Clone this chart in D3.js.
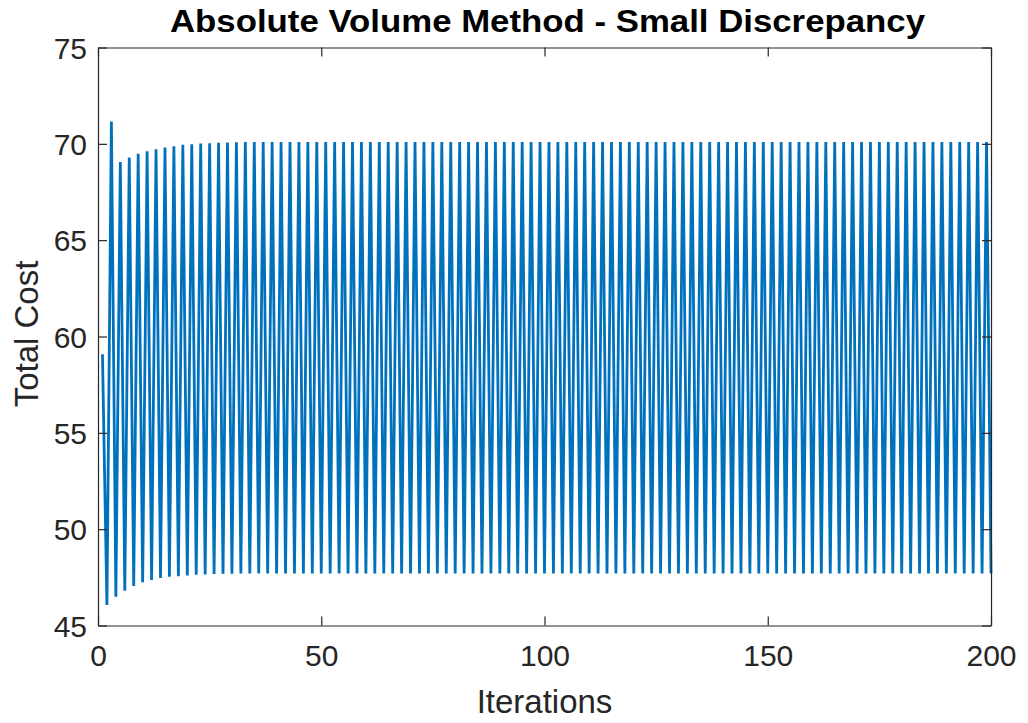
<!DOCTYPE html>
<html>
<head>
<meta charset="utf-8">
<script src="https://cdn.jsdelivr.net/npm/d3@7"></script>
<style>
  body { margin: 0; background: #fff; }
  svg { font-family: "Liberation Sans", Arial, sans-serif; }
</style>
</head>
<body>
<svg id="chart" width="1028" height="723"></svg>
<script>
// values, iteration 1..200
const iterations = d3.range(1, 201);
const totalCost = [
  59.08, 46.06, 71.16, 46.49, 69.05, 46.80, 69.29, 47.05, 69.48, 47.24,
  69.62, 47.36, 69.72, 47.46, 69.81, 47.53, 69.88, 47.56, 69.95, 47.60,
  69.98, 47.63, 70.02, 47.65, 70.03, 47.67, 70.05, 47.68, 70.07, 47.69,
  70.08, 47.70, 70.09, 47.70, 70.09, 47.70, 70.10, 47.70, 70.10, 47.70,
  70.10, 47.70, 70.10, 47.70, 70.10, 47.70, 70.10, 47.70, 70.10, 47.70,
  70.10, 47.70, 70.10, 47.70, 70.10, 47.70, 70.10, 47.70, 70.10, 47.70,
  70.10, 47.70, 70.10, 47.70, 70.10, 47.70, 70.10, 47.70, 70.10, 47.70,
  70.10, 47.70, 70.10, 47.70, 70.10, 47.70, 70.10, 47.70, 70.10, 47.70,
  70.10, 47.70, 70.10, 47.70, 70.10, 47.70, 70.10, 47.70, 70.10, 47.70,
  70.10, 47.70, 70.10, 47.70, 70.10, 47.70, 70.10, 47.70, 70.10, 47.70,
  70.10, 47.70, 70.10, 47.70, 70.10, 47.70, 70.10, 47.70, 70.10, 47.70,
  70.10, 47.70, 70.10, 47.70, 70.10, 47.70, 70.10, 47.70, 70.10, 47.70,
  70.10, 47.70, 70.10, 47.70, 70.10, 47.70, 70.10, 47.70, 70.10, 47.70,
  70.10, 47.70, 70.10, 47.70, 70.10, 47.70, 70.10, 47.70, 70.10, 47.70,
  70.10, 47.70, 70.10, 47.70, 70.10, 47.70, 70.10, 47.70, 70.10, 47.70,
  70.10, 47.70, 70.10, 47.70, 70.10, 47.70, 70.10, 47.70, 70.10, 47.70,
  70.10, 47.70, 70.10, 47.70, 70.10, 47.70, 70.10, 47.70, 70.10, 47.70,
  70.10, 47.70, 70.10, 47.70, 70.10, 47.70, 70.10, 47.70, 70.10, 47.70,
  70.10, 47.70, 70.10, 47.70, 70.10, 47.70, 70.10, 47.70, 70.10, 47.70,
  70.10, 47.70, 70.10, 47.70, 70.10, 47.70, 70.10, 47.70, 70.10, 47.70
];
const xTicks = [0, 50, 100, 150, 200];
const yTicks = [45, 50, 55, 60, 65, 70, 75];
const titleText = "Absolute Volume Method - Small Discrepancy";
const xLabel = "Iterations";
const yLabel = "Total Cost";

var svg = d3.select("#chart");
// plot box (note: "top" clashes with window.top, so use other names)
var mLeft = 98, mRight = 991, mTop = 47.5, mBottom = 625.5;
var axisColor = "#262626";

var x = d3.scaleLinear().domain([0, 200]).range([mLeft, mRight]);
var y = d3.scaleLinear().domain([45, 75]).range([mBottom, mTop]);

var data = iterations.map((d, i) => ({ it: d, cost: totalCost[i] }));

// the series
var line = d3.line().x((d) => x(d.it)).y((d) => y(d.cost));
svg.append("path")
  .datum(data)
  .attr("fill", "none")
  .attr("stroke", "#0072BD")
  .attr("stroke-width", 2.8)
  .attr("stroke-linejoin", "miter")
  .attr("d", line);

// axes, ticks pointing inward like matlab
var tickLen = 9;
var xAxis = d3.axisBottom(x).tickValues(xTicks).tickSizeInner(-tickLen).tickSizeOuter(0).tickPadding(19);
var yAxis = d3.axisLeft(y).tickValues(yTicks).tickSizeInner(-tickLen).tickSizeOuter(0).tickPadding(11);

var gx = svg.append("g").attr("transform", `translate(0,${mBottom})`).call(xAxis);
var gy = svg.append("g").attr("transform", `translate(${mLeft},0)`).call(yAxis);
var gxTop = svg.append("g").attr("transform", `translate(0,${mTop})`)
  .call(d3.axisTop(x).tickValues(xTicks).tickSizeInner(-tickLen).tickSizeOuter(0).tickFormat(""));
var gyRight = svg.append("g").attr("transform", `translate(${mRight},0)`)
  .call(d3.axisRight(y).tickValues(yTicks).tickSizeInner(-tickLen).tickSizeOuter(0).tickFormat(""));

[gx, gy, gxTop, gyRight].forEach((g) => {
  g.select(".domain").attr("stroke", axisColor).attr("stroke-width", 1.2);
  g.selectAll(".tick line").attr("stroke", axisColor).attr("stroke-width", 1.2);
  g.selectAll(".tick text")
    .attr("fill", axisColor)
    .style("font-size", "30px")
    .style("font-family", "Liberation Sans, Arial, sans-serif");
});
gx.selectAll(".tick text").attr("dy", "0.71em");
gy.selectAll(".tick text").attr("dy", "0.36em");

// title and labels
svg.append("text")
  .attr("x", 547.5)
  .attr("y", 32)
  .attr("text-anchor", "middle")
  .attr("textLength", 755)
  .attr("lengthAdjust", "spacingAndGlyphs")
  .style("font-size", "32px")
  .style("font-weight", "bold")
  .attr("fill", "#000")
  .text(titleText);

svg.append("text")
  .attr("x", (mLeft + mRight) / 2)
  .attr("y", 713)
  .attr("text-anchor", "middle")
  .style("font-size", "33px")
  .attr("fill", axisColor)
  .text(xLabel);

svg.append("text")
  .attr("transform", `translate(38,334) rotate(-90)`)
  .attr("text-anchor", "middle")
  .style("font-size", "33px")
  .attr("fill", axisColor)
  .text(yLabel);
</script>
</body>
</html>
